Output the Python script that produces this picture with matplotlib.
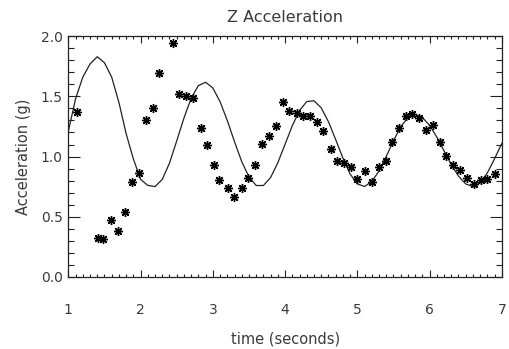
import matplotlib
matplotlib.use('Agg')
import matplotlib.pyplot as plt
from matplotlib.ticker import MultipleLocator

# fitted curve, sampled every 0.1 s
t_fit = [1.0, 1.1, 1.2, 1.3, 1.4, 1.5, 1.6, 1.7, 1.8, 1.9,
         2.0, 2.1, 2.2, 2.3, 2.4, 2.5, 2.6, 2.7, 2.8, 2.9,
         3.0, 3.1, 3.2, 3.3, 3.4, 3.5, 3.6, 3.7, 3.8, 3.9,
         4.0, 4.1, 4.2, 4.3, 4.4, 4.5, 4.6, 4.7, 4.8, 4.9,
         5.0, 5.1, 5.2, 5.3, 5.4, 5.5, 5.6, 5.7, 5.8, 5.9,
         6.0, 6.1, 6.2, 6.3, 6.4, 6.5, 6.6, 6.7, 6.8, 6.9, 7.0]
acc_fit = [1.21, 1.48, 1.66, 1.77, 1.83, 1.78, 1.66, 1.45, 1.19, 0.98,
           0.81, 0.76, 0.75, 0.81, 0.945, 1.13, 1.32, 1.485, 1.59, 1.618,
           1.57, 1.456, 1.30, 1.123, 0.958, 0.83, 0.759, 0.759, 0.826, 0.949,
           1.102, 1.257, 1.384, 1.457, 1.464, 1.405, 1.29, 1.141, 0.987, 0.855,
           0.772, 0.751, 0.791, 0.88, 1.001, 1.131, 1.247, 1.324, 1.35, 1.325,
           1.259, 1.162, 1.047, 0.933, 0.837, 0.772, 0.75, 0.78, 0.864, 0.983, 1.109]

# measured samples
t_meas = [1.116, 1.406, 1.484, 1.59, 1.69, 1.79, 1.877, 1.978, 2.075, 2.167,
          2.255, 2.45, 2.53, 2.628, 2.72, 2.835, 2.914, 3.015, 3.09, 3.213,
          3.296, 3.398, 3.49, 3.59, 3.68, 3.775, 3.872, 3.965, 4.057, 4.159,
          4.25, 4.343, 4.435, 4.527, 4.629, 4.72, 4.817, 4.91, 5.0, 5.10,
          5.196, 5.297, 5.39, 5.48, 5.574, 5.667, 5.763, 5.855, 5.957, 6.048,
          6.14, 6.234, 6.326, 6.427, 6.524, 6.615, 6.708, 6.80, 6.90]
acc_meas = [1.367, 0.32, 0.31, 0.47, 0.38, 0.54, 0.79, 0.86, 1.30, 1.40,
            1.695, 1.945, 1.52, 1.506, 1.487, 1.24, 1.10, 0.93, 0.806, 0.737,
            0.667, 0.737, 0.82, 0.93, 1.105, 1.167, 1.25, 1.45, 1.38, 1.362,
            1.34, 1.34, 1.29, 1.21, 1.06, 0.964, 0.945, 0.91, 0.814, 0.883,
            0.79, 0.91, 0.964, 1.12, 1.236, 1.333, 1.356, 1.32, 1.22, 1.264,
            1.117, 1.006, 0.93, 0.89, 0.82, 0.772, 0.806, 0.814, 0.856]

fig = plt.figure(figsize=(5.1, 3.49), dpi=100)
ax = fig.add_axes([0.134, 0.207, 0.850, 0.689])

ink = '#222222'
txt = '#3a3a3a'
ax.plot(t_fit, acc_fit, color=ink, linewidth=0.9)
ax.plot(t_meas, acc_meas, linestyle='none', marker=(8, 2, 0),
        markersize=6.5, markeredgewidth=1.0, color='black')

ax.set_xlim(1, 7)
ax.set_ylim(0, 2.0)
ax.xaxis.set_major_locator(MultipleLocator(1))
ax.xaxis.set_minor_locator(MultipleLocator(0.1))
ax.yaxis.set_major_locator(MultipleLocator(0.5))
ax.yaxis.set_minor_locator(MultipleLocator(0.1))
ax.yaxis.set_major_formatter(plt.FormatStrFormatter('%.1f'))

ax.tick_params(which='both', direction='in', top=True, right=True,
               color=ink, width=0.8, labelsize=10, labelcolor=txt)
ax.tick_params(axis='x', which='major', length=5, pad=19)
ax.tick_params(axis='x', which='minor', length=2.5)
ax.tick_params(axis='y', which='major', length=8.5, pad=4)
ax.tick_params(axis='y', which='minor', length=4.3)
for s in ax.spines.values():
    s.set_color(ink)
    s.set_linewidth(0.9)

ax.set_title('Z Acceleration', fontsize=11.5, color=txt, pad=10)
ax.set_xlabel('time (seconds)', fontsize=10.5, color=txt, labelpad=10)
ax.set_ylabel('Acceleration (g)', fontsize=10.5, color=txt, labelpad=7)

plt.savefig('out.png', dpi=100)
